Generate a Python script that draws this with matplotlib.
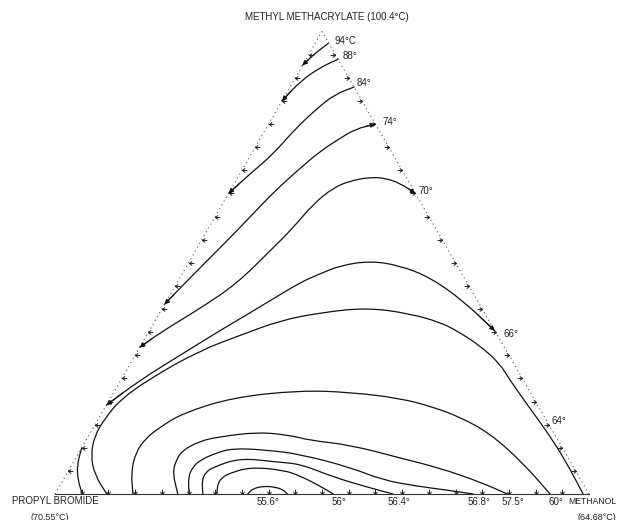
import numpy as np
import matplotlib
matplotlib.use("Agg")
import matplotlib.pyplot as plt
from matplotlib.path import Path
from matplotlib.patches import PathPatch
from matplotlib.markers import MarkerStyle
from matplotlib.transforms import Affine2D

plt.rcParams['font.family'] = ['Liberation Sans', 'DejaVu Sans']

# isotherms: mole fraction of methyl methacrylate (mma)
# and of methanol (meoh), the rest is propyl bromide
t94_mma = [0.975, 0.952, 0.927]
t94_meoh = [0.025, 0.010, 0.0]

t88_mma = [0.940, 0.922, 0.892, 0.850]
t88_meoh = [0.060, 0.035, 0.013, 0.0]

t84_mma = [0.880, 0.864, 0.834, 0.789, 0.735, 0.692, 0.650]
t84_meoh = [0.120, 0.092, 0.074, 0.055, 0.041, 0.019, 0.0]

t74_mma = [0.800, 0.789, 0.769, 0.741, 0.705, 0.655, 0.606, 0.552, 0.500, 0.452, 0.410]
t74_meoh = [0.200, 0.168, 0.149, 0.126, 0.107, 0.084, 0.068, 0.050, 0.031, 0.014, 0.0]

t70_mma = [0.650, 0.672, 0.683, 0.685, 0.677, 0.662, 0.627, 0.575, 0.526, 0.455, 0.401, 0.353, 0.317]
t70_meoh = [0.350, 0.310, 0.277, 0.247, 0.214, 0.190, 0.170, 0.158, 0.140, 0.113, 0.071, 0.026, 0.0]

t66_mma = [0.353, 0.418, 0.468, 0.494, 0.504, 0.494, 0.476, 0.457, 0.418, 0.379, 0.353, 0.300, 0.246, 0.192]
t66_meoh = [0.647, 0.555, 0.469, 0.399, 0.338, 0.287, 0.258, 0.230, 0.194, 0.157, 0.132, 0.084, 0.036, 0.0]

t64_mma = [0.0, 0.041, 0.084, 0.127, 0.164, 0.203, 0.250, 0.310, 0.343, 0.375, 0.392, 0.403,
           0.390, 0.371, 0.353, 0.321, 0.282, 0.246, 0.185, 0.131, 0.073, 0.0]
t64_meoh = [0.097, 0.054, 0.025, 0.011, 0.012, 0.020, 0.053, 0.116, 0.175, 0.234, 0.300, 0.383,
            0.470, 0.536, 0.576, 0.635, 0.692, 0.729, 0.797, 0.858, 0.919, 0.989]

t60_mma = [0.0, 0.047, 0.091, 0.121, 0.144, 0.175, 0.209, 0.224, 0.220, 0.207, 0.188, 0.166, 0.131, 0.067, 0.0]
t60_meoh = [0.146, 0.119, 0.106, 0.110, 0.124, 0.152, 0.229, 0.347, 0.443, 0.543, 0.614, 0.676, 0.749, 0.843, 0.927]

t575_mma = [0.0, 0.045, 0.073, 0.095, 0.114, 0.123, 0.134, 0.127, 0.116, 0.106, 0.078, 0.056, 0.026, 0.0]
t575_meoh = [0.230, 0.198, 0.190, 0.192, 0.214, 0.242, 0.312, 0.377, 0.419, 0.500, 0.607, 0.693, 0.783, 0.847]

t568_mma = [0.0, 0.037, 0.058, 0.073, 0.088, 0.099, 0.095, 0.086, 0.058, 0.030, 0.017, 0.009, 0.0]
t568_meoh = [0.251, 0.231, 0.229, 0.235, 0.256, 0.284, 0.350, 0.416, 0.523, 0.599, 0.669, 0.726, 0.783]

t564_mma = [0.0, 0.030, 0.047, 0.058, 0.078, 0.069, 0.065, 0.037, 0.015, 0.0]
t564_meoh = [0.277, 0.260, 0.259, 0.267, 0.308, 0.381, 0.427, 0.502, 0.577, 0.633]

t56_mma = [0.0, 0.024, 0.037, 0.045, 0.058, 0.052, 0.039, 0.017, 0.0]
t56_meoh = [0.303, 0.293, 0.296, 0.305, 0.336, 0.401, 0.440, 0.488, 0.521]

t556_mma = [0.0, 0.011, 0.017, 0.015, 0.009, 0.0]
t556_meoh = [0.361, 0.364, 0.381, 0.405, 0.423, 0.435]

# short curve in the propyl bromide corner
tpb_mma = [0.100, 0.0625, 0.030, 0.0]
tpb_meoh = [0.0, 0.010, 0.028, 0.051]

# arrow ticks along the three sides
side_ticks = np.arange(0.05, 0.96, 0.05)


def tern(mma, meoh):
    mma = np.asarray(mma, dtype=float)
    meoh = np.asarray(meoh, dtype=float)
    return meoh + mma / 2.0, mma * np.sqrt(3) / 2.0


def smooth_path(x, y):
    # quadratic bezier through segment midpoints, read points used as controls
    pts = np.column_stack([x, y])
    if len(pts) < 3:
        return Path(pts)
    verts = [pts[0], (pts[0] + pts[1]) / 2]
    codes = [Path.MOVETO, Path.LINETO]
    for i in range(1, len(pts) - 1):
        verts += [pts[i], (pts[i] + pts[i + 1]) / 2]
        codes += [Path.CURVE3, Path.CURVE3]
    verts.append(pts[-1])
    codes.append(Path.LINETO)
    return Path(verts, codes)


def arrow_marker(angle):
    verts = [(-1.0, 0.0), (0.0, 0.0), (-0.55, 0.42), (0.0, 0.0), (-0.55, -0.42)]
    codes = [Path.MOVETO, Path.LINETO, Path.MOVETO, Path.LINETO, Path.LINETO]
    return MarkerStyle(Path(verts, codes), transform=Affine2D().rotate_deg(angle))


fig = plt.figure(figsize=(6.18, 5.2), dpi=100)
ax = fig.add_axes([0, 0, 1, 1])
ax.set_xlim(-55 / 534, 563 / 534)
ax.set_ylim(-26 / 534, 494 / 534)
ax.set_aspect('equal')
ax.axis('off')

h = np.sqrt(3) / 2
ax.plot([0, 1], [0, 0], color='#333333', lw=0.8)
ax.plot([0, 0.5], [0, h], color='#555555', lw=0.8, ls=(0, (1, 3)))
ax.plot([1, 0.5], [0, h], color='#555555', lw=0.8, ls=(0, (1, 3)))

# tie-line ticks on the sides
tick_kw = dict(ls='none', ms=7, color='#222222', mfc='none', mec='#222222', mew=0.7)
lx, ly = tern(side_ticks, np.zeros_like(side_ticks))
ax.plot(lx, ly, marker=arrow_marker(180), **tick_kw)
rx, ry = tern(side_ticks, 1 - side_ticks)
ax.plot(rx, ry, marker=arrow_marker(0), **tick_kw)
bx, by = tern(np.zeros_like(side_ticks), side_ticks)
ax.plot(bx, by, marker=arrow_marker(-90), **tick_kw)

isotherms = [
    ("94°C", t94_mma, t94_meoh),
    ("88°", t88_mma, t88_meoh),
    ("84°", t84_mma, t84_meoh),
    ("74°", t74_mma, t74_meoh),
    ("70°", t70_mma, t70_meoh),
    ("66°", t66_mma, t66_meoh),
    ("", t64_mma, t64_meoh),
    ("60°", t60_mma, t60_meoh),
    ("57.5°", t575_mma, t575_meoh),
    ("56.8°", t568_mma, t568_meoh),
    ("56.4°", t564_mma, t564_meoh),
    ("56°", t56_mma, t56_meoh),
    ("55.6°", t556_mma, t556_meoh),
    ("", tpb_mma, tpb_meoh),
]

for lab, a, m in isotherms:
    x, y = tern(a, m)
    ax.add_patch(PathPatch(smooth_path(x, y), fill=False, ec='#111111', lw=0.9, capstyle='round'))

# arrow heads where the curves run into a side
arr = dict(arrowstyle='-|>', color='#111111', lw=0.8, mutation_scale=7, shrinkA=0, shrinkB=0)
for lab, a, m in isotherms[:6]:
    x, y = tern(a, m)
    ax.annotate('', xy=(x[-1], y[-1]), xytext=((x[-1] + x[-2]) / 2, (y[-1] + y[-2]) / 2), arrowprops=arr)
for lab, a, m in isotherms[3:6]:
    x, y = tern(a, m)
    ax.annotate('', xy=(x[0], y[0]), xytext=((x[0] + x[1]) / 2, (y[0] + y[1]) / 2), arrowprops=arr)

# temperature labels
fs = 7
pt = 0.72
side_offsets = {"94°C": (6, 2), "88°": (5, 3), "84°": (3, 4), "74°": (7, 2), "70°": (3, 2), "66°": (9, -3)}
for lab, a, m in isotherms[:6]:
    x, y = tern(a, m)
    dx, dy = side_offsets[lab]
    ax.annotate(lab, xy=(x[0], y[0]), xytext=(dx * pt, dy * pt), textcoords='offset points',
                ha='left', va='center', fontsize=fs, color='#222222')

for lab, a, m in isotherms[7:12]:
    x, y = tern(a, m)
    ax.annotate(lab, xy=(x[-1], y[-1]), xytext=(6 * pt, -8 * pt), textcoords='offset points',
                ha='center', va='center', fontsize=fs, color='#222222')
lx556, ly556 = tern(t556_mma, t556_meoh)
ax.annotate("55.6°", xy=(lx556.mean(), 0), xytext=(0, -8 * pt), textcoords='offset points',
            ha='center', va='center', fontsize=fs, color='#222222')
ax.text((551 - 55) / 534, (494 - 421) / 534, "64°", ha='left', va='center', fontsize=fs, color='#222222')

# vertex labels
ax.text(0.51, (494 - 17) / 534, "METHYL METHACRYLATE (100.4°C)", ha='center', va='center',
        fontsize=7, color='#222222')
ax.text((12 - 55) / 534, (494 - 501) / 534, "PROPYL BROMIDE", ha='left', va='center',
        fontsize=7, color='#222222')
ax.text((30 - 55) / 534, (494 - 517) / 534, "(70.55°C)", ha='left', va='center',
        fontsize=6.5, color='#222222')
ax.text((616 - 55) / 534, (494 - 501) / 534, "METHANOL", ha='right', va='center',
        fontsize=6.2, color='#222222')
ax.text((616 - 55) / 534, (494 - 517) / 534, "(64.68°C)", ha='right', va='center',
        fontsize=6.5, color='#222222')

fig.savefig("out.png", dpi=100)
